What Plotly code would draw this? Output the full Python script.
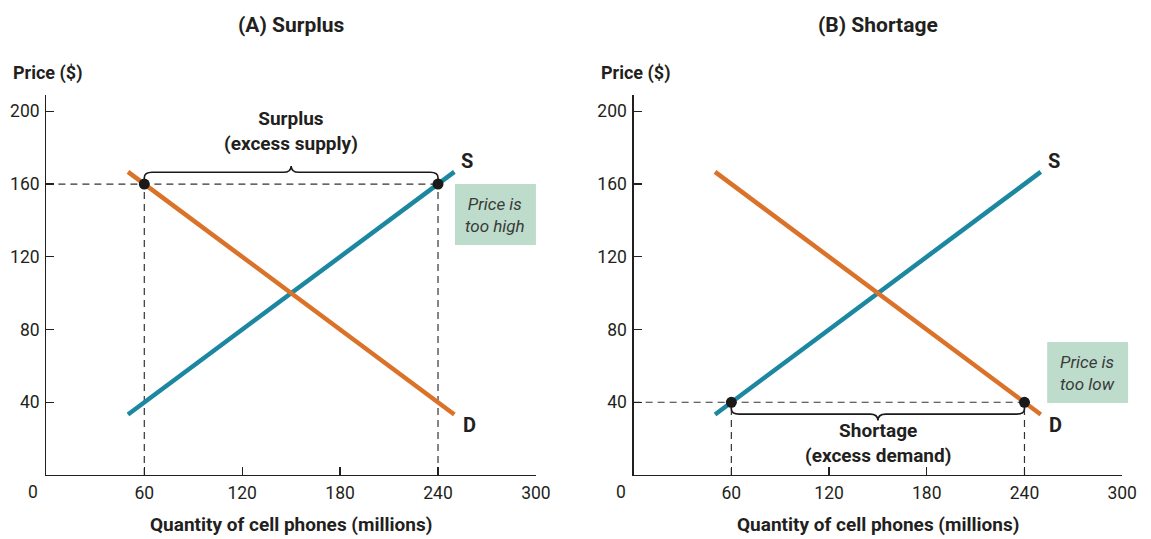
import plotly.graph_objects as go

# ---- data ----
supply_q = [50, 250]
supply_p = [33.3, 166.7]
demand_q = [50, 250]
demand_p = [166.7, 33.3]
surplus_price = 160
surplus_qd, surplus_qs = 60, 240
shortage_price = 40
shortage_qs, shortage_qd = 60, 240
x_ticks = [60, 120, 180, 240, 300]
y_ticks = [40, 80, 120, 160, 200]

TEAL = "#1b87a0"
ORANGE = "#da7229"
GREEN = "#bddccb"
INK = "#231f20"
FONT = "Roboto, Liberation Sans, sans-serif"

W, H = 1151, 539
XMIN, XMAX = 0, 300
YMAX = 209


def px(x):
    return x / W


def py(y):
    return 1 - y / H


fig = go.Figure()

panels = [
    dict(xa="x", ya="y", dom=[px(47), px(543)]),
    dict(xa="x2", ya="y2", dom=[px(642), px(1137)]),
]

for p in panels:
    fig.add_trace(go.Scatter(x=supply_q, y=supply_p, mode="lines", xaxis=p["xa"], yaxis=p["ya"],
                             line=dict(color=TEAL, width=4.5), showlegend=False, hoverinfo="skip"))
    fig.add_trace(go.Scatter(x=demand_q, y=demand_p, mode="lines", xaxis=p["xa"], yaxis=p["ya"],
                             line=dict(color=ORANGE, width=4.5), showlegend=False, hoverinfo="skip"))

dash = dict(color="#333333", width=1.2, dash="7px,5px")


def guides(xr, yr, price, qa, qb):
    fig.add_shape(type="line", xref=xr, yref=yr, x0=XMIN, x1=qb, y0=price, y1=price, line=dash, layer="below")
    for q in (qa, qb):
        fig.add_shape(type="line", xref=xr, yref=yr, x0=q, x1=q, y0=0, y1=price, line=dash, layer="below")


guides("x", "y", surplus_price, surplus_qd, surplus_qs)
guides("x2", "y2", shortage_price, shortage_qs, shortage_qd)

fig.add_trace(go.Scatter(x=[surplus_qd, surplus_qs], y=[surplus_price] * 2, mode="markers",
                         xaxis="x", yaxis="y", marker=dict(color="#1a1a1a", size=11),
                         showlegend=False, hoverinfo="skip"))
fig.add_trace(go.Scatter(x=[shortage_qs, shortage_qd], y=[shortage_price] * 2, mode="markers",
                         xaxis="x2", yaxis="y2", marker=dict(color="#1a1a1a", size=11),
                         showlegend=False, hoverinfo="skip"))


def brace(xr, yr, x0, x1, y, d):
    r = 3.0
    yb = y + d * 6.5
    tip = y + d * 10
    mid = (x0 + x1) / 2
    path = (f"M {x0},{y + d*1.5} L {x0},{yb - d*r} Q {x0},{yb} {x0 + r*1.6},{yb} "
            f"L {mid - r*1.6},{yb} Q {mid},{yb} {mid},{tip} Q {mid},{yb} {mid + r*1.6},{yb} "
            f"L {x1 - r*1.6},{yb} Q {x1},{yb} {x1},{yb - d*r} L {x1},{y + d*1.5}")
    fig.add_shape(type="path", xref=xr, yref=yr, path=path, line=dict(color="#1a1a1a", width=1.6))


brace("x", "y", surplus_qd, surplus_qs, surplus_price, 1)
brace("x2", "y2", shortage_qs, shortage_qd, shortage_price, -1)

ann = []


def A(**kw):
    kw.setdefault("showarrow", False)
    kw.setdefault("xanchor", "center")
    kw.setdefault("yanchor", "middle")
    ann.append(kw)


bold = dict(family=FONT, size=19, color=INK)
A(x=150, y=189, xref="x", yref="y", text="<b>Surplus<br>(excess supply)</b>", font=bold, align="center")
A(x=150, y=17.5, xref="x2", yref="y2", text="<b>Shortage<br>(excess demand)</b>", font=bold, align="center")
for xr, yr in (("x", "y"), ("x2", "y2")):
    A(x=258, y=172.5, xref=xr, yref=yr, text="<b>S</b>", font=dict(family=FONT, size=20, color=INK))
    A(x=259, y=27.5, xref=xr, yref=yr, text="<b>D</b>", font=dict(family=FONT, size=20, color=INK))


def box(x0p, y0p, x1p, y1p, text):
    fig.add_shape(type="rect", xref="paper", yref="paper", x0=px(x0p), x1=px(x1p),
                  y0=py(y1p), y1=py(y0p), fillcolor=GREEN, line=dict(width=0), layer="below")
    A(x=px((x0p + x1p) / 2), y=py((y0p + y1p) / 2), xref="paper", yref="paper",
      text=f"<i>{text}</i>", align="center", font=dict(family=FONT, size=17, color="#3a3a3a"))


box(461, 184, 543, 245, "Price is<br>too high")
box(1061, 342, 1143, 403, "Price is<br>too low")

for t, xp in (("(A) Surplus", 295), ("(B) Shortage", 890)):
    A(x=px(xp), y=py(25), xref="paper", yref="paper", text=f"<b>{t}</b>",
      font=dict(family=FONT, size=21, color=INK))
for xp in (11, 607):
    A(x=px(xp), y=py(73), xref="paper", yref="paper", text="<b>Price ($)</b>", xanchor="left",
      font=dict(family=FONT, size=18, color=INK))
for xp in (295, 890):
    A(x=px(xp), y=py(524), xref="paper", yref="paper", text="<b>Quantity of cell phones (millions)</b>",
      font=dict(family=FONT, size=19, color=INK))
for xp in (33, 629):
    A(x=px(xp), y=py(492), xref="paper", yref="paper", text="0", font=dict(family=FONT, size=17.5, color=INK))

axis_common = dict(showgrid=False, zeroline=False, showline=True, linecolor=INK, linewidth=1.3,
                   ticks="inside", tickcolor=INK, ticklen=8, tickwidth=1.3,
                   tickfont=dict(family=FONT, size=17.5, color=INK), fixedrange=True)

y_dom = [py(475), py(95)]
layout = dict(width=W, height=H, autosize=False, margin=dict(l=0, r=0, t=0, b=0),
              paper_bgcolor="white", plot_bgcolor="white", annotations=ann, showlegend=False)
for i, p in enumerate(panels):
    xk = "xaxis" if i == 0 else "xaxis2"
    yk = "yaxis" if i == 0 else "yaxis2"
    layout[xk] = dict(axis_common, domain=p["dom"], range=[XMIN, XMAX], tickvals=x_ticks, anchor=p["ya"],
                      ticklabelstandoff=2)
    layout[yk] = dict(axis_common, domain=y_dom, range=[0, YMAX], tickvals=y_ticks, anchor=p["xa"],
                      ticklabelstandoff=2)
fig.update_layout(**layout)

page_fix = ("document.body.style.margin='0';document.body.style.overflow='hidden';"
            "document.documentElement.style.overflow='hidden';")
fig.write_html("out.html", post_script=page_fix,
               config={"responsive": False, "displayModeBar": False, "staticPlot": True})
